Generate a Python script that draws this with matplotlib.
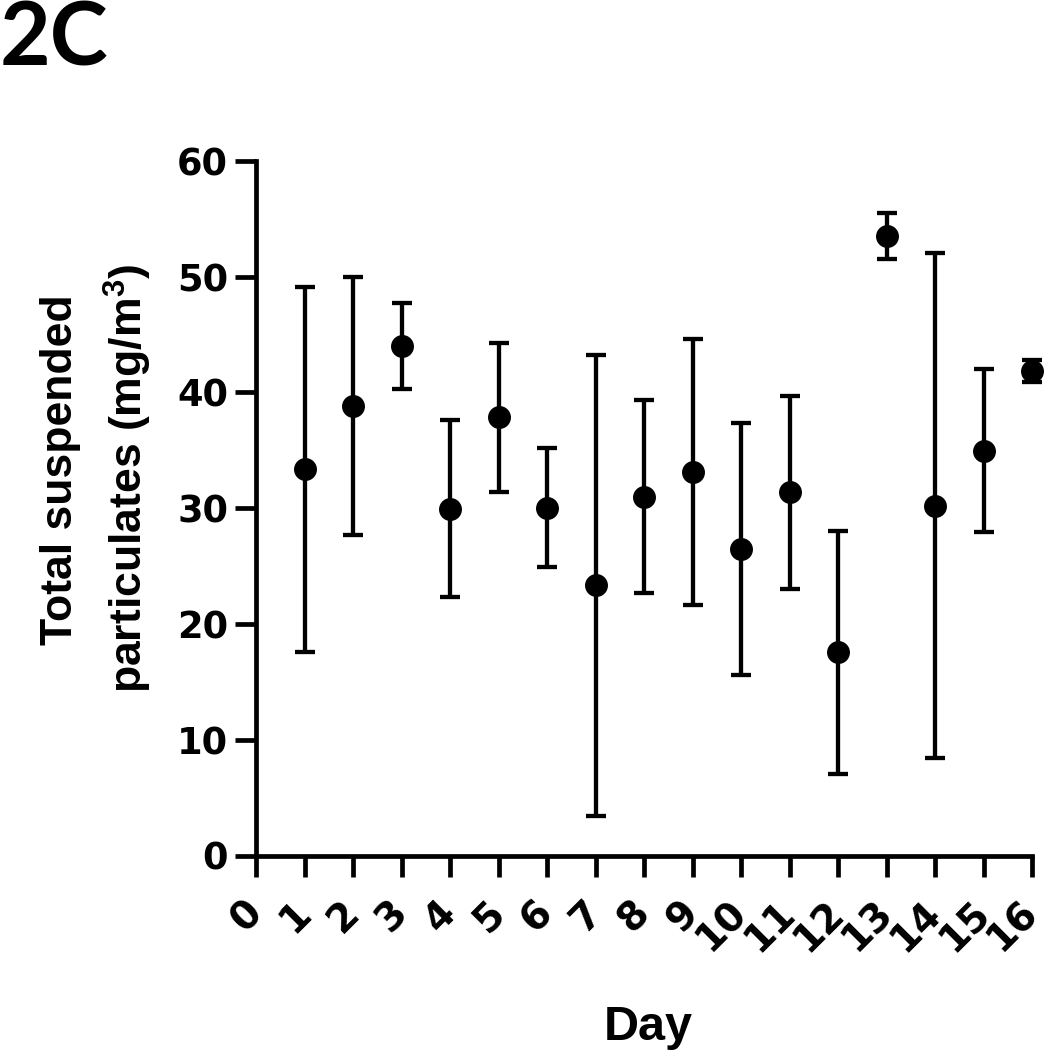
import matplotlib
matplotlib.use("Agg")
import matplotlib.pyplot as plt

# values (mean +/- error bar half-length)
days = [1, 2, 3, 4, 5, 6, 7, 8, 9, 10, 11, 12, 13, 14, 15, 16]
tsp_mean = [33.35, 38.84, 44.0, 29.95, 37.85, 30.05, 23.32, 31.0,
            33.1, 26.48, 31.35, 17.55, 53.5, 30.2, 34.95, 41.85]
tsp_err = [15.75, 11.16, 3.7, 7.65, 6.45, 5.15, 19.88, 8.3,
           11.5, 10.9, 8.35, 10.5, 2.0, 21.8, 7.05, 0.95]
xticks = list(range(0, 17))
yticks = [0, 10, 20, 30, 40, 50, 60]

plt.rcParams['mathtext.fontset'] = 'custom'
plt.rcParams['mathtext.bf'] = 'Liberation Sans:bold'
plt.rcParams['mathtext.rm'] = 'Liberation Sans:bold'
plt.rcParams['mathtext.default'] = 'bf'

fig = plt.figure(figsize=(10.44, 10.5), dpi=100)
ax = fig.add_axes([256/1044, 1 - 855.5/1050, (1032-256)/1044, (855.5-160.7)/1050])

line, caps, bars = ax.errorbar(days, tsp_mean, yerr=tsp_err, fmt='o', color='black',
                               ms=15.5, elinewidth=3.1, capsize=7.4, capthick=3.1)
line.set_clip_on(False)
for c in caps:
    c.set_clip_on(False)
for b in bars:
    b.set_clip_on(False)

ax.set_xlim(0, 16)
ax.set_ylim(0, 60)
ax.set_xticks(xticks)
ax.set_yticks(yticks)
ax.spines['top'].set_visible(False)
ax.spines['right'].set_visible(False)
ax.spines['left'].set_linewidth(3.4)
ax.spines['bottom'].set_linewidth(3.4)
ax.tick_params(width=3.4, length=15, direction='out')
ax.tick_params(axis='y', pad=5)
ax.tick_params(axis='x', pad=22)

for lab in ax.get_yticklabels():
    lab.set_fontfamily('DejaVu Sans')
    lab.set_fontweight('bold')
    lab.set_fontsize(26.5)
for lab in ax.get_xticklabels():
    lab.set_fontfamily('DejaVu Sans')
    lab.set_fontweight('bold')
    lab.set_fontsize(28)
    lab.set_rotation(45)
    lab.set_ha('right')
    lab.set_va('center')
    lab.set_rotation_mode('anchor')

# axis titles
fig.text(72/1044, 1 - 470/1050, 'Total suspended', rotation=90, rotation_mode='anchor',
         ha='center', va='baseline', fontsize=32, fontweight='bold', family='Liberation Sans')
fig.text(143/1044, 1 - 478/1050, 'particulates (mg/m$^3$)', rotation=90, rotation_mode='anchor',
         ha='center', va='baseline', fontsize=32, fontweight='bold', family='Liberation Sans')
fig.text(648/1044, 10/1050, 'Day', ha='center', va='baseline',
         fontsize=35, fontweight='bold', family='Liberation Sans')

# panel letter
fig.text(0, 1 - 66/1050, '2C', ha='left', va='baseline',
         fontsize=63, fontweight='bold', family='Lato')

fig.savefig('out.png', dpi=100)
